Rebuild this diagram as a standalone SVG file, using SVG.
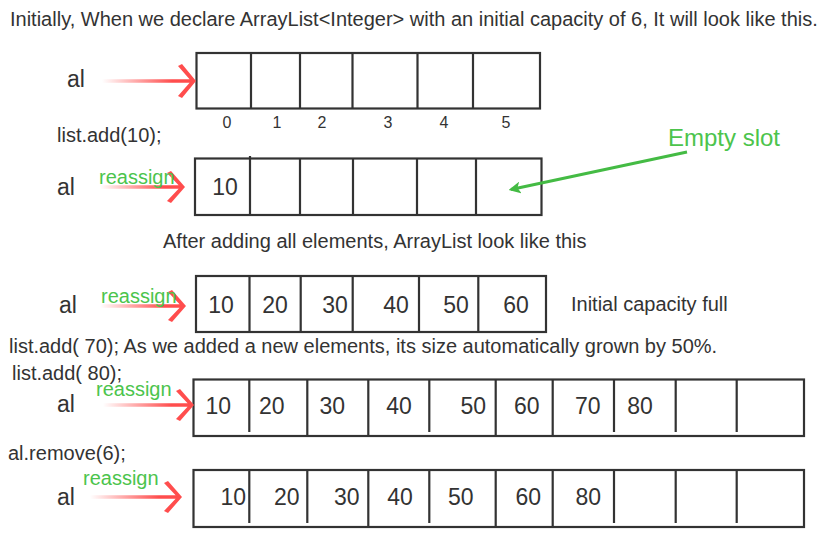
<svg xmlns="http://www.w3.org/2000/svg" width="832" height="543" viewBox="0 0 832 543">
<defs>
<linearGradient id="rg" x1="0" y1="0" x2="1" y2="0">
<stop offset="0" stop-color="#ff4d4d" stop-opacity="0"/>
<stop offset="0.75" stop-color="#ff4d4d" stop-opacity="1"/>
<stop offset="1" stop-color="#ff4d4d"/>
</linearGradient>
<marker id="gh" viewBox="0 0 10 10" refX="8" refY="5" markerWidth="4" markerHeight="4" orient="auto" markerUnits="strokeWidth">
<path d="M0,0 L10,5 L0,10 L2.5,5 Z" fill="#44bb44"/>
</marker>
</defs>
<style>
text{font-family:"Liberation Sans",Arial,sans-serif;fill:#333}
.t{font-size:20px}
.al{font-size:23px}
.n{font-size:23px;text-anchor:middle}
.ix{font-size:16px;text-anchor:middle}
.g{fill:#4cc44c;font-size:20px}
.es{fill:#4cc44c;font-size:24px}
.box{fill:#fff;stroke:#333;stroke-width:2.2}
.dv{stroke:#333;stroke-width:2.2}
.ra{fill:url(#rg)}
</style>
<rect width="832" height="543" fill="#fff"/>
<g id="texts">
<text class="t" x="10" y="26">Initially, When we declare ArrayList&lt;Integer&gt; with an initial capacity of 6, It will look like this.</text>
<text class="t" x="57" y="142">list.add(10);</text>
<text class="t" x="163" y="248">After adding all elements, ArrayList look like this</text>
<text class="t" x="571" y="311">Initial capacity full</text>
<text class="t" x="9" y="353">list.add( 70); As we added a new elements, its size automatically grown by 50%.</text>
<text class="t" x="12" y="380">list.add( 80);</text>
<text class="t" x="8" y="460">al.remove(6);</text>
</g>
<g id="row1">
<text class="al" x="67" y="87">al</text>
<rect class="box" x="196.5" y="53" width="343.5" height="55.5"/>
<path class="dv" d="M251,53V108.5M300,53V108.5M352.5,53V108.5M417.5,53V108.5M473,53V108.5"/>
<text class="ix" x="227" y="128">0</text>
<text class="ix" x="277" y="128">1</text>
<text class="ix" x="322" y="128">2</text>
<text class="ix" x="388" y="128">3</text>
<text class="ix" x="444" y="128">4</text>
<text class="ix" x="506" y="128">5</text>
</g>
<g id="row2">
<text class="al" x="57" y="195">al</text>
<rect class="box" x="195" y="158.5" width="346.5" height="56.5"/>
<path class="dv" d="M250,156V215M300,158.5V215M353,158.5V215M417,158.5V215M476,158.5V215"/>
<text class="n" x="225" y="195">10</text>
</g>
<g id="row3">
<text class="al" x="59" y="313">al</text>
<rect class="box" x="196" y="276" width="350" height="56"/>
<path class="dv" d="M249.5,276V332M300.7,276V332M352.7,276V332M419,276V332M478.3,276V332"/>
<text class="n" x="221" y="313">10</text>
<text class="n" x="275" y="313">20</text>
<text class="n" x="335" y="313">30</text>
<text class="n" x="396" y="313">40</text>
<text class="n" x="456" y="313">50</text>
<text class="n" x="516" y="313">60</text>
</g>
<g id="row4">
<text class="al" x="57" y="412">al</text>
<rect class="box" x="193.5" y="379.5" width="610.5" height="56.5"/>
<path class="dv" d="M249.3,379.5V432M307.3,379.5V436M368.3,379.5V436M429.3,379.5V432M495.7,379.5V436M552.7,379.5V436M614,379.5V432M675.7,379.5V432M736.7,379.5V432"/>
<text class="n" x="218.3" y="413.5">10</text>
<text class="n" x="271.7" y="413.5">20</text>
<text class="n" x="332.3" y="413.5">30</text>
<text class="n" x="399" y="413.5">40</text>
<text class="n" x="473.3" y="413.5">50</text>
<text class="n" x="526.7" y="413.5">60</text>
<text class="n" x="587.7" y="413.5">70</text>
<text class="n" x="640" y="413.5">80</text>
</g>
<g id="row5">
<text class="al" x="57" y="505">al</text>
<rect class="box" x="193.5" y="470" width="610.5" height="57"/>
<path class="dv" d="M249.3,470V523M307.3,470V523M368.3,470V527M429.3,470V523M495.7,470V527M552.7,470V527M614,470V523M675.7,470V523M736.7,470V523"/>
<text class="n" x="233.3" y="505">10</text>
<text class="n" x="286.7" y="505">20</text>
<text class="n" x="346.7" y="505">30</text>
<text class="n" x="400" y="505">40</text>
<text class="n" x="460.7" y="505">50</text>
<text class="n" x="528.3" y="505">60</text>
<text class="n" x="588.3" y="505">80</text>
</g>
<g id="connectors">
<path class="ra" d="M102,79.2H189.6L178,66L182,64L196,81L182,98L178,96L189.6,82.8H102Z"/>
<path class="ra" d="M100,185.2H178.6L167,173L171,171L185,187L171,203L167,201L178.6,188.8H100Z"/>
<path class="ra" d="M100,304.2H179.6L168,292L172,290L186,306L172,322L168,320L179.6,307.8H100Z"/>
<path class="ra" d="M103,403.2H187.6L176,391L180,389L194,405L180,421L176,419L187.6,406.8H103Z"/>
<path class="ra" d="M90,495.2H175.6L164,483L168,481L182,497L168,513L164,511L175.6,498.8H90Z"/>
<line x1="687" y1="152" x2="511" y2="189.5" stroke="#44bb44" stroke-width="3" marker-end="url(#gh)"/>
</g>
<g id="labels">
<text class="g" x="99" y="184">reassign</text>
<text class="g" x="101" y="303">reassign</text>
<text class="g" x="96" y="396">reassign</text>
<text class="g" x="83" y="485">reassign</text>
<text class="es" x="668" y="146">Empty slot</text>
</g>
</svg>
